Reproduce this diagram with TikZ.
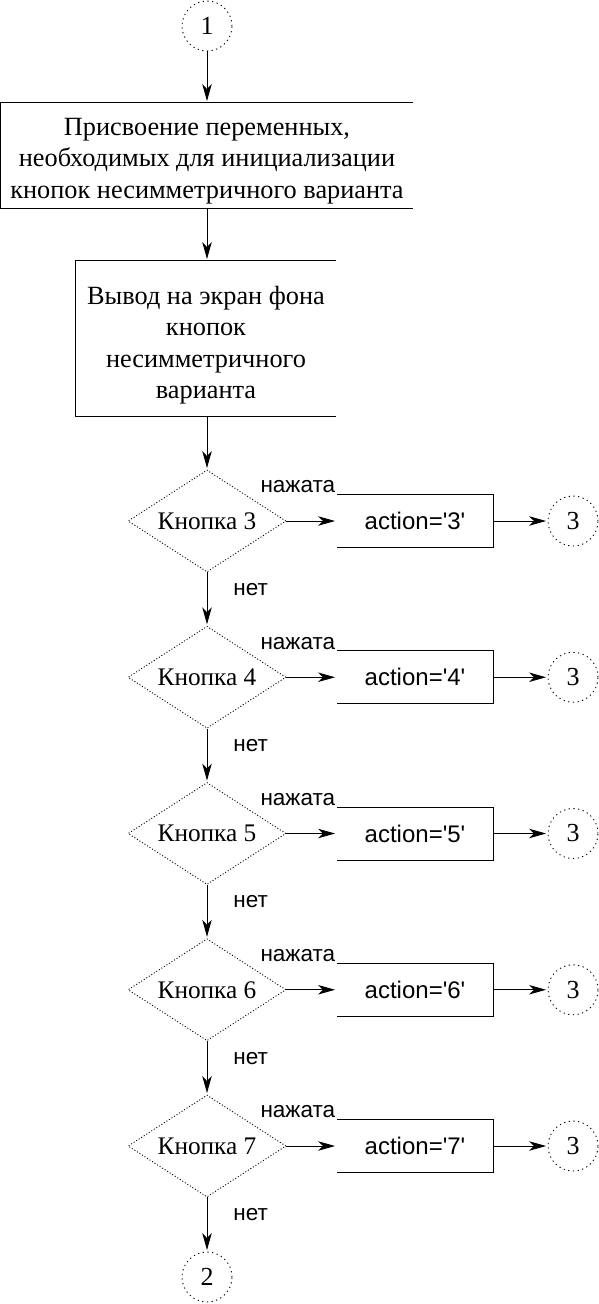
\documentclass[tikz,border=0pt]{standalone}
\usepackage{fontspec}
\setmainfont{Liberation Serif}
\newfontfamily\labsans{Liberation Sans}
\usetikzlibrary{shapes.geometric,arrows.meta}
\begin{document}
\begin{tikzpicture}[x=1pt,y=-1pt,
  line width=0.9pt,
  arr/.style={-{Stealth[length=17pt,width=9.5pt,inset=5pt]},shorten >=1.5pt},
  conn/.style={circle,draw,dash pattern=on 1.2pt off 3.5pt,minimum size=50pt,inner sep=0pt,font=\fontsize{26}{30}\selectfont},
  dia/.style={diamond,draw,dash pattern=on 1pt off 2pt,minimum width=158pt,minimum height=102pt,aspect=1.55,inner sep=0pt,font=\fontsize{25.3}{28}\selectfont},
  act/.style={minimum width=156pt,minimum height=52pt,inner sep=0pt,font=\labsans\fontsize{24}{28}\selectfont},
  lab/.style={font=\labsans\fontsize{22.5}{26}\selectfont,inner sep=1pt},
  box/.style={inner sep=0pt,align=center,font=\fontsize{26.3}{31.5}\selectfont}]
\useasboundingbox (0,0) rectangle (598,1304);

\node[conn] (c1) at (207,26) {1};
\node[box,minimum width=412pt,minimum height=105pt] (b1) at (207,161)
  {Присвоение переменных,\\необходимых для инициализации\\кнопок несимметричного варианта};
\draw ([yshift=5.5pt]b1.north east) -- ([yshift=5.5pt]b1.north west) -- ([yshift=5.5pt]b1.south west) -- ([yshift=5.5pt]b1.south east);
\node[box,minimum width=260pt,minimum height=155pt] (b2) at (206,345)
  {Вывод на экран фона\\кнопок\\несимметричного\\варианта};
\draw ([yshift=6.5pt]b2.north east) -- ([yshift=6.5pt]b2.north west) -- ([yshift=6.5pt]b2.south west) -- ([yshift=6.5pt]b2.south east);

\draw[arr] (c1) -- ([yshift=5.5pt]b1.north);
\draw[arr] ([yshift=5.5pt]b1.south) -- ([yshift=6.5pt,xshift=1pt]b2.north);

\foreach \k/\y in {3/521,4/677.25,5/833.5,6/989.75,7/1146}{
  \node[dia] (d\k) at (207,\y) {Кнопка \k};
  \node[act] (a\k) at (415,\y) {action='\k'};
  \draw (a\k.north west) -- (a\k.north east) -- (a\k.south east) -- (a\k.south west);
  \node[conn] (r\k) at (573,\y) {3};
  \draw[arr] (d\k.east) -- (a\k.west);
  \draw[arr] (a\k.east) -- (r\k.west);
  \node[lab,anchor=south east] (n\k) at (a\k.north west) {нажата};
}

\draw[arr] ([yshift=6.5pt,xshift=1pt]b2.south) -- (d3);
\foreach \p/\q in {3/4,4/5,5/6,6/7}{
  \draw[arr] (d\p.south) -- node[lab,anchor=west,pos=0.32,xshift=25pt] {нет} (d\q.north);
}
\node[conn] (c2) at (207,1277) {2};
\draw[arr] (d7.south) -- node[lab,anchor=west,pos=0.32,xshift=25pt] {нет} (c2.north);
\end{tikzpicture}
\end{document}
